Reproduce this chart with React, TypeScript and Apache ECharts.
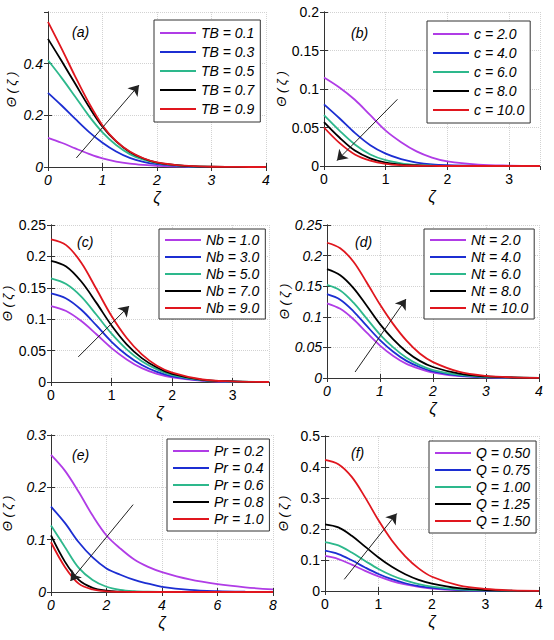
import React, { useEffect, useRef } from "react";
import * as echarts from "echarts";

const COLORS = ["#B03CE6", "#1C2ED2", "#2DB88C", "#000000", "#E0161E"];

// (a) TB
const xA = [0, 0.25, 0.5, 0.75, 1, 1.25, 1.5, 1.75, 2, 2.5, 3, 3.5, 4];
const labelsA = ["TB = 0.1", "TB = 0.3", "TB = 0.5", "TB = 0.7", "TB = 0.9"];
const valuesA = [
  [0.113, 0.094, 0.072, 0.051, 0.033, 0.021, 0.013, 0.008, 0.0045, 0.0012, 0.0003, 0, 0],
  [0.287, 0.238, 0.186, 0.136, 0.094, 0.06, 0.035, 0.02, 0.011, 0.0028, 0.0006, 0.0001, 0],
  [0.413, 0.345, 0.272, 0.198, 0.134, 0.085, 0.05, 0.028, 0.015, 0.0038, 0.0008, 0.0001, 0],
  [0.496, 0.41, 0.322, 0.234, 0.156, 0.099, 0.058, 0.033, 0.017, 0.0045, 0.001, 0.0002, 0],
  [0.562, 0.458, 0.35, 0.248, 0.161, 0.1, 0.06, 0.034, 0.018, 0.005, 0.001, 0.0002, 0],
];
const arrowA = [[0.52, 0.035], [1.67, 0.317]];

// (b) c
const xB = [0, 0.25, 0.5, 0.75, 1, 1.25, 1.5, 1.75, 2, 2.5, 3, 3.5];
const labelsB = ["c = 2.0", "c = 4.0", "c = 6.0", "c = 8.0", "c = 10.0"];
const valuesB = [
  [0.115, 0.102, 0.086, 0.066, 0.046, 0.031, 0.019, 0.011, 0.006, 0.0018, 0.0005, 0.0001],
  [0.08, 0.062, 0.043, 0.027, 0.016, 0.009, 0.0045, 0.002, 0.001, 0.0002, 0, 0],
  [0.066, 0.046, 0.028, 0.015, 0.0075, 0.0035, 0.0015, 0.0006, 0.0002, 0, 0, 0],
  [0.057, 0.037, 0.02, 0.01, 0.0045, 0.0018, 0.0007, 0.0002, 0, 0, 0, 0],
  [0.05, 0.03, 0.015, 0.007, 0.0028, 0.001, 0.0003, 0.0001, 0, 0, 0, 0],
];
const arrowB = [[1.19, 0.0866], [0.21, 0.007]];

// (c) Nb
const xC = [0, 0.25, 0.5, 0.75, 1, 1.25, 1.5, 1.75, 2, 2.5, 3, 3.6];
const labelsC = ["Nb = 1.0", "Nb = 3.0", "Nb = 5.0", "Nb = 7.0", "Nb = 9.0"];
const valuesC = [
  [0.121, 0.113, 0.097, 0.076, 0.054, 0.036, 0.022, 0.013, 0.0075, 0.002, 0.0005, 0],
  [0.141, 0.133, 0.115, 0.09, 0.064, 0.043, 0.027, 0.016, 0.009, 0.0025, 0.0006, 0],
  [0.165, 0.156, 0.136, 0.107, 0.077, 0.052, 0.033, 0.02, 0.011, 0.003, 0.0008, 0],
  [0.193, 0.184, 0.16, 0.126, 0.09, 0.06, 0.038, 0.023, 0.013, 0.0035, 0.001, 0],
  [0.227, 0.218, 0.19, 0.148, 0.105, 0.07, 0.044, 0.026, 0.015, 0.004, 0.001, 0],
];
const arrowC = [[0.45, 0.04], [1.29, 0.121]];

// (d) Nt
const xD = [0, 0.25, 0.5, 0.75, 1, 1.25, 1.5, 1.75, 2, 2.5, 3, 3.5, 4];
const labelsD = ["Nt = 2.0", "Nt = 4.0", "Nt = 6.0", "Nt = 8.0", "Nt = 10.0"];
const valuesD = [
  [0.122, 0.113, 0.096, 0.074, 0.053, 0.036, 0.023, 0.015, 0.009, 0.003, 0.001, 0.0003, 0],
  [0.137, 0.128, 0.109, 0.085, 0.062, 0.043, 0.028, 0.018, 0.011, 0.004, 0.0013, 0.0004, 0.0001],
  [0.152, 0.143, 0.123, 0.097, 0.071, 0.05, 0.033, 0.021, 0.013, 0.005, 0.0017, 0.0005, 0.0001],
  [0.178, 0.168, 0.147, 0.118, 0.088, 0.063, 0.043, 0.028, 0.018, 0.007, 0.0025, 0.0008, 0.0002],
  [0.221, 0.212, 0.19, 0.156, 0.12, 0.088, 0.061, 0.04, 0.026, 0.01, 0.0035, 0.001, 0.0002],
];
const arrowD = [[0.53, 0.0098], [1.49, 0.129]];

// (e) Pr
const xE = [0, 0.5, 1, 1.5, 2, 2.5, 3, 3.5, 4, 5, 6, 7, 8];
const labelsE = ["Pr = 0.2", "Pr = 0.4", "Pr = 0.6", "Pr = 0.8", "Pr = 1.0"];
const valuesE = [
  [0.262, 0.232, 0.191, 0.146, 0.108, 0.083, 0.062, 0.048, 0.038, 0.024, 0.015, 0.009, 0.005],
  [0.163, 0.132, 0.095, 0.066, 0.045, 0.033, 0.023, 0.016, 0.01, 0.004, 0.0015, 0.0005, 0.0002],
  [0.127, 0.086, 0.046, 0.023, 0.01, 0.004, 0.0015, 0.0005, 0.0002, 0, 0, 0, 0],
  [0.108, 0.058, 0.023, 0.008, 0.0025, 0.0007, 0.0002, 0, 0, 0, 0, 0, 0],
  [0.095, 0.048, 0.016, 0.005, 0.0012, 0.0003, 0, 0, 0, 0, 0, 0, 0],
];
const arrowE = [[2.96, 0.167], [0.7, 0.021]];

// (f) Q
const xF = [0, 0.25, 0.5, 0.75, 1, 1.25, 1.5, 1.75, 2, 2.5, 3, 3.5, 4];
const labelsF = ["Q = 0.50", "Q = 0.75", "Q = 1.00", "Q = 1.25", "Q = 1.50"];
const valuesF = [
  [0.113, 0.103, 0.085, 0.065, 0.047, 0.032, 0.021, 0.013, 0.008, 0.003, 0.001, 0.0003, 0],
  [0.13, 0.119, 0.099, 0.076, 0.055, 0.038, 0.025, 0.016, 0.01, 0.0036, 0.0012, 0.0004, 0.0001],
  [0.158, 0.147, 0.124, 0.097, 0.071, 0.05, 0.034, 0.022, 0.014, 0.005, 0.0017, 0.0005, 0.0001],
  [0.215, 0.205, 0.178, 0.143, 0.108, 0.078, 0.054, 0.036, 0.024, 0.009, 0.003, 0.001, 0.0003],
  [0.423, 0.409, 0.368, 0.302, 0.228, 0.163, 0.112, 0.073, 0.046, 0.018, 0.0065, 0.002, 0.0006],
];
const arrowF = [[0.36, 0.0376], [1.34, 0.25]];

const FONT = "'Liberation Sans', Arial, Helvetica, sans-serif";

export default function App() {
  const ref = useRef<HTMLDivElement>(null);

  useEffect(() => {
    if (!ref.current) return;
    const chart = echarts.init(ref.current, undefined, { renderer: "svg" });

    const panels = [
      { tag: "(a)", xs: xA, labels: labelsA, values: valuesA, arrow: arrowA,
        grid: { left: 48, top: 12, width: 218, height: 155 },
        xMax: 4, xInt: 1, yMax: 0.6, yInt: 0.2, italic: true, yGap: 30,
        legend: { left: 154, top: 20, gap: 5, pad: [6, 6] }, tagPos: [72, 25] },
      { tag: "(b)", xs: xB, labels: labelsB, values: valuesB, arrow: arrowB,
        grid: { left: 324, top: 12, width: 216, height: 154 },
        xMax: 3.5, xInt: 1, yMax: 0.2, yInt: 0.05, italic: false, yGap: 36,
        legend: { left: 427, top: 21, gap: 5, pad: [6, 6] }, tagPos: [351, 26] },
      { tag: "(c)", xs: xC, labels: labelsC, values: valuesC, arrow: arrowC,
        grid: { left: 51, top: 225, width: 218, height: 157 },
        xMax: 3.6, xInt: 1, yMax: 0.25, yInt: 0.05, italic: false, yGap: 37,
        legend: { left: 159, top: 229, gap: 3, pad: [4, 6] }, tagPos: [77, 235] },
      { tag: "(d)", xs: xD, labels: labelsD, values: valuesD, arrow: arrowD,
        grid: { left: 327, top: 225, width: 212, height: 153 },
        xMax: 4, xInt: 1, yMax: 0.25, yInt: 0.05, italic: true, yGap: 36,
        legend: { left: 424, top: 229, gap: 3, pad: [4, 6] }, tagPos: [355, 235] },
      { tag: "(e)", xs: xE, labels: labelsE, values: valuesE, arrow: arrowE,
        grid: { left: 51, top: 435, width: 222, height: 157 },
        xMax: 8, xInt: 2, yMax: 0.3, yInt: 0.1, italic: true, yGap: 37,
        legend: { left: 167, top: 439, gap: 3, pad: [5, 6] }, tagPos: [72, 448] },
      { tag: "(f)", xs: xF, labels: labelsF, values: valuesF, arrow: arrowF,
        grid: { left: 325, top: 436, width: 214, height: 155 },
        xMax: 4, xInt: 1, yMax: 0.5, yInt: 0.1, italic: false, yGap: 35,
        legend: { left: 429, top: 441, gap: 3, pad: [5, 6] }, tagPos: [351, 446] },
    ];

    const axisLine = { show: true, lineStyle: { color: "#333", width: 1 } };
    const axisTick = { show: true, inside: true, length: 4, lineStyle: { color: "#333" } };
    const splitLine = { show: true, lineStyle: { color: "#d2d2d2", type: "dotted", width: 1 } };

    const grids: any[] = [];
    const xAxes: any[] = [];
    const yAxes: any[] = [];
    const series: any[] = [];
    const legends: any[] = [];
    const graphics: any[] = [];

    panels.forEach((p, i) => {
      grids.push({ ...p.grid, containLabel: false });
      const labelStyle = {
        color: "#000", fontSize: 14, fontFamily: FONT,
        fontStyle: p.italic ? "italic" : "normal",
      };
      xAxes.push({
        type: "value", gridIndex: i, min: 0, max: p.xMax, interval: p.xInt,
        axisLine, axisTick, splitLine,
        axisLabel: { ...labelStyle, margin: 6, showMaxLabel: p.xMax % p.xInt === 0 },
        name: "ζ", nameLocation: "middle", nameGap: 22,
        nameTextStyle: { color: "#000", fontSize: 16, fontStyle: "italic", fontFamily: FONT },
      });
      yAxes.push({
        type: "value", gridIndex: i, min: 0, max: p.yMax, interval: p.yInt,
        axisLine, axisTick, splitLine,
        axisLabel: { ...labelStyle, margin: 5, showMaxLabel: i !== 0 },
        name: "Θ ( ζ )", nameLocation: "middle", nameGap: p.yGap, nameRotate: 90,
        nameTextStyle: { color: "#000", fontSize: 13, fontStyle: "italic", fontFamily: FONT },
      });
      p.values.forEach((vals, k) => {
        series.push({
          type: "line", name: p.labels[k], xAxisIndex: i, yAxisIndex: i,
          data: p.xs.map((x, j) => [x, vals[j]]),
          smooth: 0.35, showSymbol: false, symbol: "none",
          lineStyle: { color: COLORS[k], width: 1.8 }, itemStyle: { color: COLORS[k] },
          z: 3 + k,
        });
      });
      series.push({
        type: "lines", coordinateSystem: "cartesian2d", xAxisIndex: i, yAxisIndex: i,
        data: [{ coords: p.arrow }], symbol: ["none", "arrow"], symbolSize: 10,
        lineStyle: { color: "#222", width: 1, opacity: 1 }, silent: true, z: 10,
      });
      legends.push({
        data: p.labels.map((n) => ({ name: n, icon: "path://M0,0H36V2H0Z" })),
        orient: "vertical", left: p.legend.left, top: p.legend.top,
        itemGap: p.legend.gap, itemWidth: 36, itemHeight: 14, padding: p.legend.pad,
        backgroundColor: "#fff", borderColor: "#333", borderWidth: 1,
        selectedMode: false, z: 20,
        textStyle: { color: "#000", fontSize: 14, fontStyle: "italic", fontFamily: FONT },
      });
      graphics.push({
        type: "text", left: p.tagPos[0], top: p.tagPos[1], z: 30,
        style: { text: p.tag, fill: "#000", fontSize: 14, fontStyle: "italic", fontFamily: FONT },
      });
    });

    // top and right frame axes
    panels.forEach((p, i) => {
      xAxes.push({
        type: "value", gridIndex: i, position: "top", min: 0, max: p.xMax, interval: p.xInt,
        axisLine, axisTick, splitLine: { show: false }, axisLabel: { show: false },
      });
      yAxes.push({
        type: "value", gridIndex: i, position: "right", min: 0, max: p.yMax, interval: p.yInt,
        axisLine, axisTick, splitLine: { show: false }, axisLabel: { show: false },
      });
    });

    chart.setOption({
      animation: false,
      backgroundColor: "#fff",
      grid: grids,
      xAxis: xAxes,
      yAxis: yAxes,
      legend: legends,
      series,
      graphic: graphics,
    });

    return () => chart.dispose();
  }, []);

  return (
    <div
      ref={ref}
      style={{ position: "absolute", left: 0, top: 0, width: 554, height: 640, background: "#fff" }}
    />
  );
}
